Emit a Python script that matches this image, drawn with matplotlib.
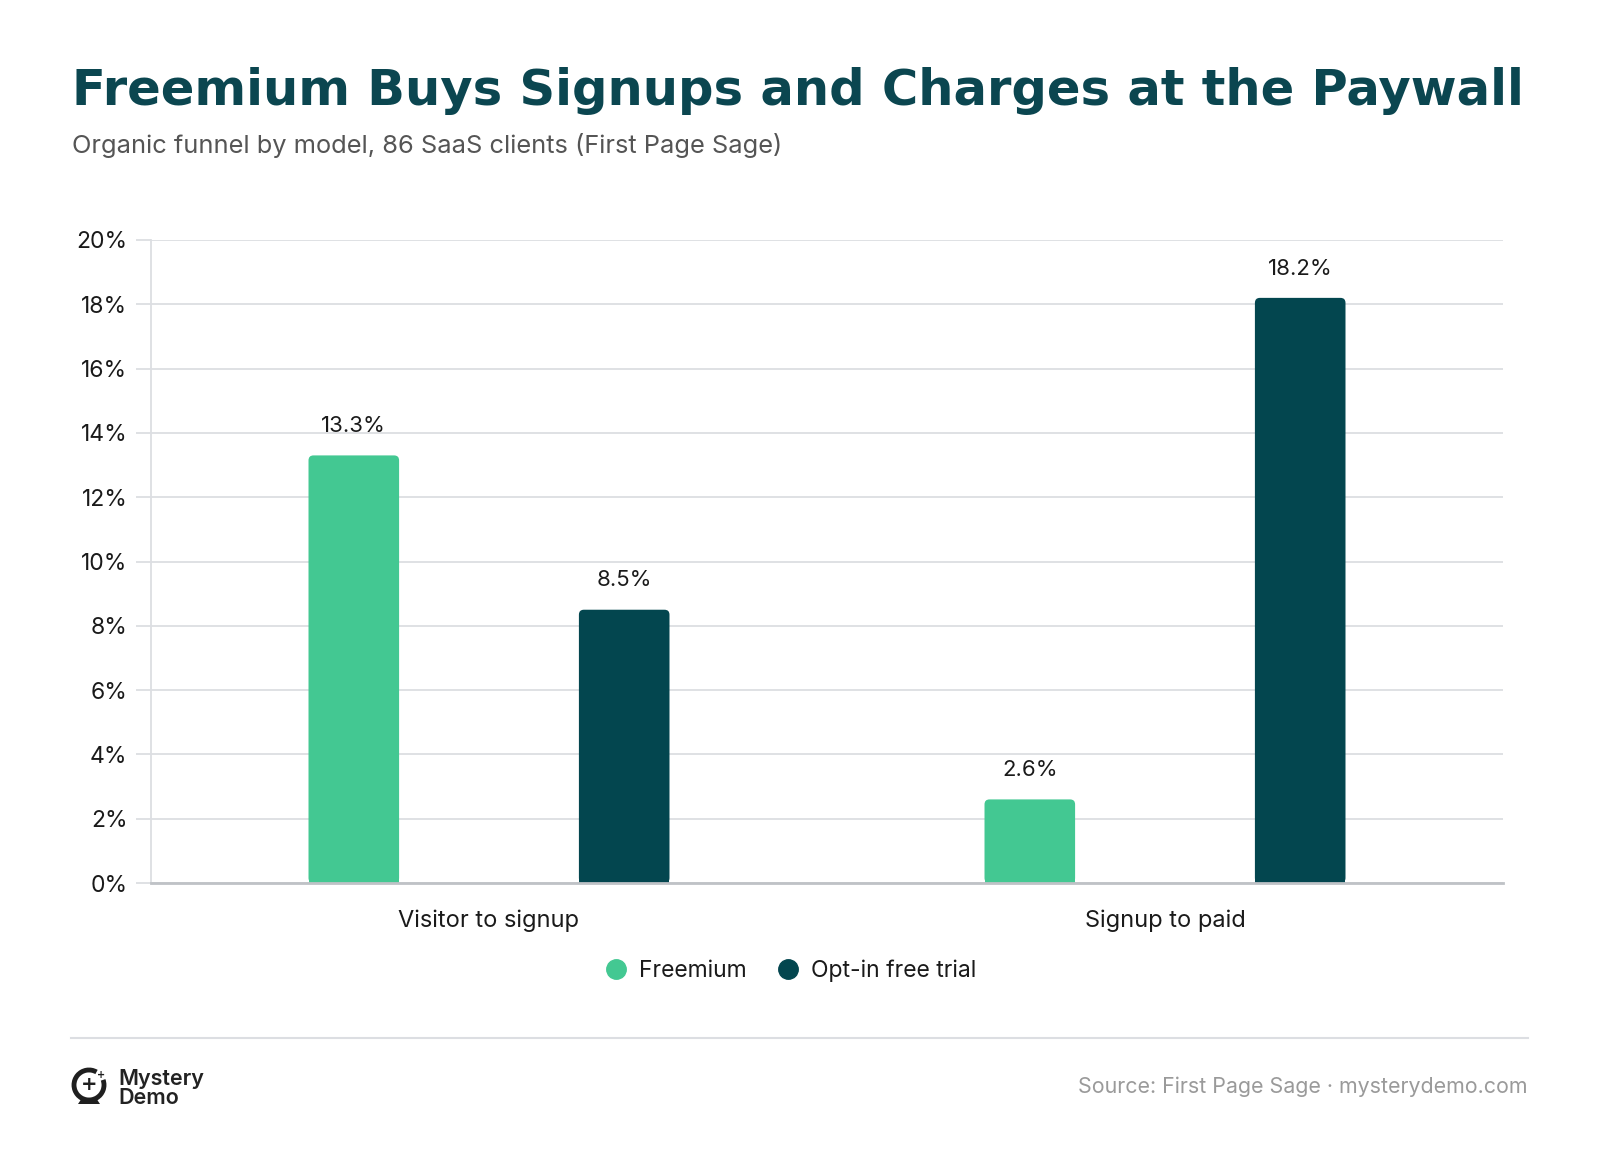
import matplotlib
matplotlib.use("Agg")
import matplotlib.pyplot as plt
from matplotlib.patches import FancyBboxPatch, Rectangle, Arc, Polygon
from matplotlib.lines import Line2D
import numpy as np

categories = ["Visitor to signup", "Signup to paid"]
series_names = ["Freemium", "Opt-in free trial"]
freemium = [13.3, 2.6]
optin = [8.5, 18.2]
yticks = [0, 2, 4, 6, 8, 10, 12, 14, 16, 18, 20]

GREEN = "#43C892"
TEAL = "#03464F"
TITLE_C = "#0B4650"
GRID = "#DCDEE2"

W, H = 1600, 1162
fig = plt.figure(figsize=(16, 11.62), dpi=100)
fig.patch.set_facecolor("white")

def fx(px):
    return px / W

def fy(py):
    return 1 - py / H

ax = fig.add_axes([fx(151), fy(883), fx(1503) - fx(151), fy(240) - fy(883)])
ax.set_xlim(-0.5, 1.5)
ax.set_ylim(0, 20)

x = np.arange(len(categories))
off = 0.2
bw = 0.134
px_per_x = (1503 - 151) / 2.0
px_per_y = (883 - 240) / 20.0
aspect = (1 / px_per_y) / (1 / px_per_x)
r = 5 / px_per_x

def rbar(xc, h, color):
    x0 = xc - bw / 2
    p = FancyBboxPatch((x0, 0), bw, h, boxstyle=f"round,pad=0,rounding_size={r}",
                       mutation_aspect=aspect, fc=color, ec="none", zorder=3)
    ax.add_patch(p)
    ax.add_patch(Rectangle((x0, 0), bw, h * 0.5, fc=color, ec="none", zorder=3))
    ax.text(xc, h + 0.6, f"{h:.1f}%", ha="center", va="bottom", fontsize=16,
            family="Inter", color="#1a1a1a", zorder=4)

for i in range(len(categories)):
    rbar(x[i] - off, freemium[i], GREEN)
    rbar(x[i] + off, optin[i], TEAL)

ax.set_yticks(yticks)
ax.set_yticklabels([f"{t}%" for t in yticks], family="Inter", fontsize=16.5, color="#1a1a1a")
ax.set_xticks(x)
ax.set_xticklabels(categories, family="Inter", fontsize=17, color="#1a1a1a")
ax.tick_params(axis="x", length=0, pad=19)
ax.tick_params(axis="y", length=11, color=GRID, width=1.3, pad=6)
ax.grid(axis="y", color=GRID, linewidth=1.3, zorder=0)
ax.set_axisbelow(True)
for s in ["top", "right"]:
    ax.spines[s].set_visible(False)
ax.spines["left"].set_color(GRID)
ax.spines["left"].set_linewidth(1.3)
ax.spines["bottom"].set_color("#BFC2C6")
ax.spines["bottom"].set_linewidth(2)
ax.spines["bottom"].set_zorder(5)

# Title / subtitle
fig.text(fx(72), fy(91), "Freemium Buys Signups and Charges at the Paywall",
         fontsize=35.7, fontweight="heavy", family="DejaVu Sans", color=TITLE_C,
         va="center", ha="left")
fig.text(fx(72), fy(146), "Organic funnel by model, 86 SaaS clients (First Page Sage)",
         fontsize=18.3, family="Inter", color="#555555", va="center", ha="left")

# Legend
handles = [Line2D([0], [0], marker="o", linestyle="", markersize=14, markerfacecolor=c,
                  markeredgecolor=c) for c in (GREEN, TEAL)]
leg = fig.legend(handles, series_names, loc="center", bbox_to_anchor=(fx(789), fy(971)),
                 ncol=2, frameon=False, prop={"family": "Inter", "size": 16.5},
                 handletextpad=0.4, columnspacing=1.2, handlelength=1.2)
for t in leg.get_texts():
    t.set_color("#1a1a1a")

# Footer rule
fig.add_artist(Line2D([fx(71), fx(1528)], [fy(1038), fy(1038)], color="#DCDEE2", lw=1.5))

# Logo
lax = fig.add_axes([fx(70), fy(1107), fx(40), fy(1067) - fy(1107)])
lax.set_xlim(0, 40)
lax.set_ylim(0, 40)
lax.set_aspect("equal")
lax.axis("off")
lax.add_patch(Arc((19, 22), 30, 30, theta1=60, theta2=380, lw=3.5, color="#1f1f1f"))
lax.add_patch(Polygon([[8, 3], [30, 3], [26, 9], [12, 9]], closed=True, fc="#1f1f1f", ec="none"))
lax.text(19, 22, "+", ha="center", va="center", fontsize=14, color="#1f1f1f", fontweight="bold")
lax.text(31, 32, "+", ha="center", va="center", fontsize=7, color="#1f1f1f", fontweight="bold")
fig.text(fx(118), fy(1079), "Mystery", fontsize=15.5, family="Inter", fontweight="semibold",
         color="#222222", va="center", ha="left")
fig.text(fx(118), fy(1098), "Demo", fontsize=15.5, family="Inter", fontweight="semibold",
         color="#222222", va="center", ha="left")

fig.text(fx(1528), fy(1087), "Source: First Page Sage · mysterydemo.com", fontsize=15.4,
         family="Inter", color="#9A9A9A", va="center", ha="right")

fig.savefig("out.png", dpi=100, facecolor="white")
